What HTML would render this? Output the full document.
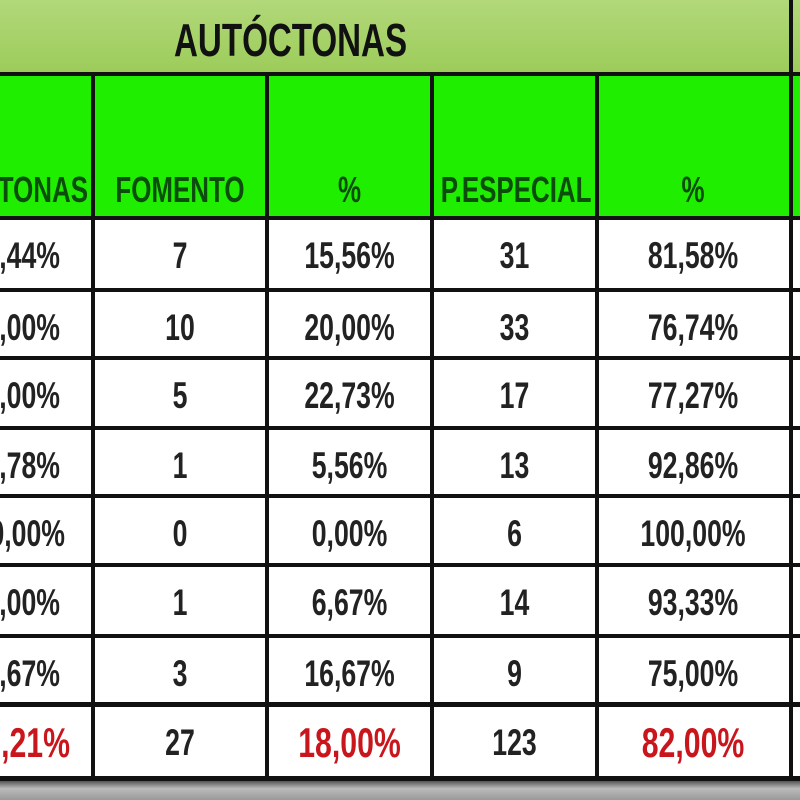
<!DOCTYPE html>
<html><head><meta charset="utf-8"><style>
body{margin:0;width:800px;height:800px;overflow:hidden;background:#fff;font-family:"Liberation Sans",sans-serif}
#w{position:relative;width:800px;height:800px;overflow:hidden}
.a{position:absolute}
.t{position:absolute;text-align:center;font-weight:bold;white-space:nowrap;transform:scaleX(0.72);transform-origin:center}
.r{position:absolute;text-align:right;font-weight:bold;white-space:nowrap;transform:scaleX(0.72);transform-origin:right}
.v{position:absolute;background:#111;width:4px}
.h{position:absolute;background:#111;height:4px;left:0;width:800px}
</style></head><body><div id="w">
<div class="a" style="left:0;top:0;width:800px;height:73px;background:linear-gradient(#b2d87a,#9ccc5a)"></div>
<div class="t" style="left:132px;top:12px;width:300px;font-size:46px;line-height:56px;color:#111">AUTÓCTONAS</div>
<div class="a" style="left:0;top:76px;width:800px;height:142px;background:#1fee00"></div>
<div class="h" style="top:72px"></div>
<div class="h" style="top:216px"></div>
<div class="v" style="left:789px;top:0;height:780px"></div>
<div class="v" style="left:91px;top:74px;height:706px"></div>
<div class="v" style="left:265px;top:74px;height:706px"></div>
<div class="v" style="left:430px;top:74px;height:706px"></div>
<div class="v" style="left:595px;top:74px;height:706px"></div>
<div class="h" style="top:288px"></div>
<div class="h" style="top:356px"></div>
<div class="h" style="top:426px"></div>
<div class="h" style="top:494px"></div>
<div class="h" style="top:563px"></div>
<div class="h" style="top:634px"></div>
<div class="h" style="top:702px;height:5px"></div>
<div class="h" style="top:776px;height:5px"></div>
<div class="a" style="left:0;top:781px;width:800px;height:19px;background:linear-gradient(#555,#bbb 40%,#999)"></div>
<div id="c"></div>
</div>
<script>
var cols=[[-80,170],[93,174],[267,165],[432,165],[597,192]];
var hdr=["AUTÓCTONAS","FOMENTO","%","P.ESPECIAL","%"];
var out="";
hdr.forEach(function(s,i){
 if(i==0){out+='<div class="r" style="left:-212px;width:300px;top:165px;font-size:36px;line-height:50px;color:#0b4d0b">'+s+'</div>';return;}
 out+='<div class="t" style="left:'+(cols[i][0]-20)+'px;width:'+(cols[i][1]+40)+'px;top:165px;font-size:36px;line-height:50px;color:#0b4d0b">'+s+'</div>';});
var rows=[["84,44%","7","15,56%","31","81,58%"],["76,00%","10","20,00%","33","76,74%"],["80,00%","5","22,73%","17","77,27%"],["77,78%","1","5,56%","13","92,86%"],["100,00%","0","0,00%","6","100,00%"],["80,00%","1","6,67%","14","93,33%"],["66,67%","3","16,67%","9","75,00%"],["82,21%","27","18,00%","123","82,00%"]];
var ys=[220,292,360,430,498,567,638,707];
rows.forEach(function(r,j){r.forEach(function(s,i){
 var red=(j==7&&i!=1&&i!=3);
 var st='font-size:'+(red?42:37)+'px;line-height:48px;color:'+(red?'#c8161c':'#222');
 if(i==0){var e=(red?70:(j==4?65:60));out+='<div class="r" style="left:'+(e-300)+'px;width:300px;top:'+(ys[j]+12)+'px;'+st+'">'+s+'</div>';return;}
 var x=cols[i][0], w=cols[i][1];
 out+='<div class="t" style="left:'+(x-20)+'px;width:'+(w+40)+'px;top:'+(ys[j]+12)+'px;'+st+'">'+s+'</div>';
});});
document.getElementById('c').innerHTML=out;
</script>
</body></html>
